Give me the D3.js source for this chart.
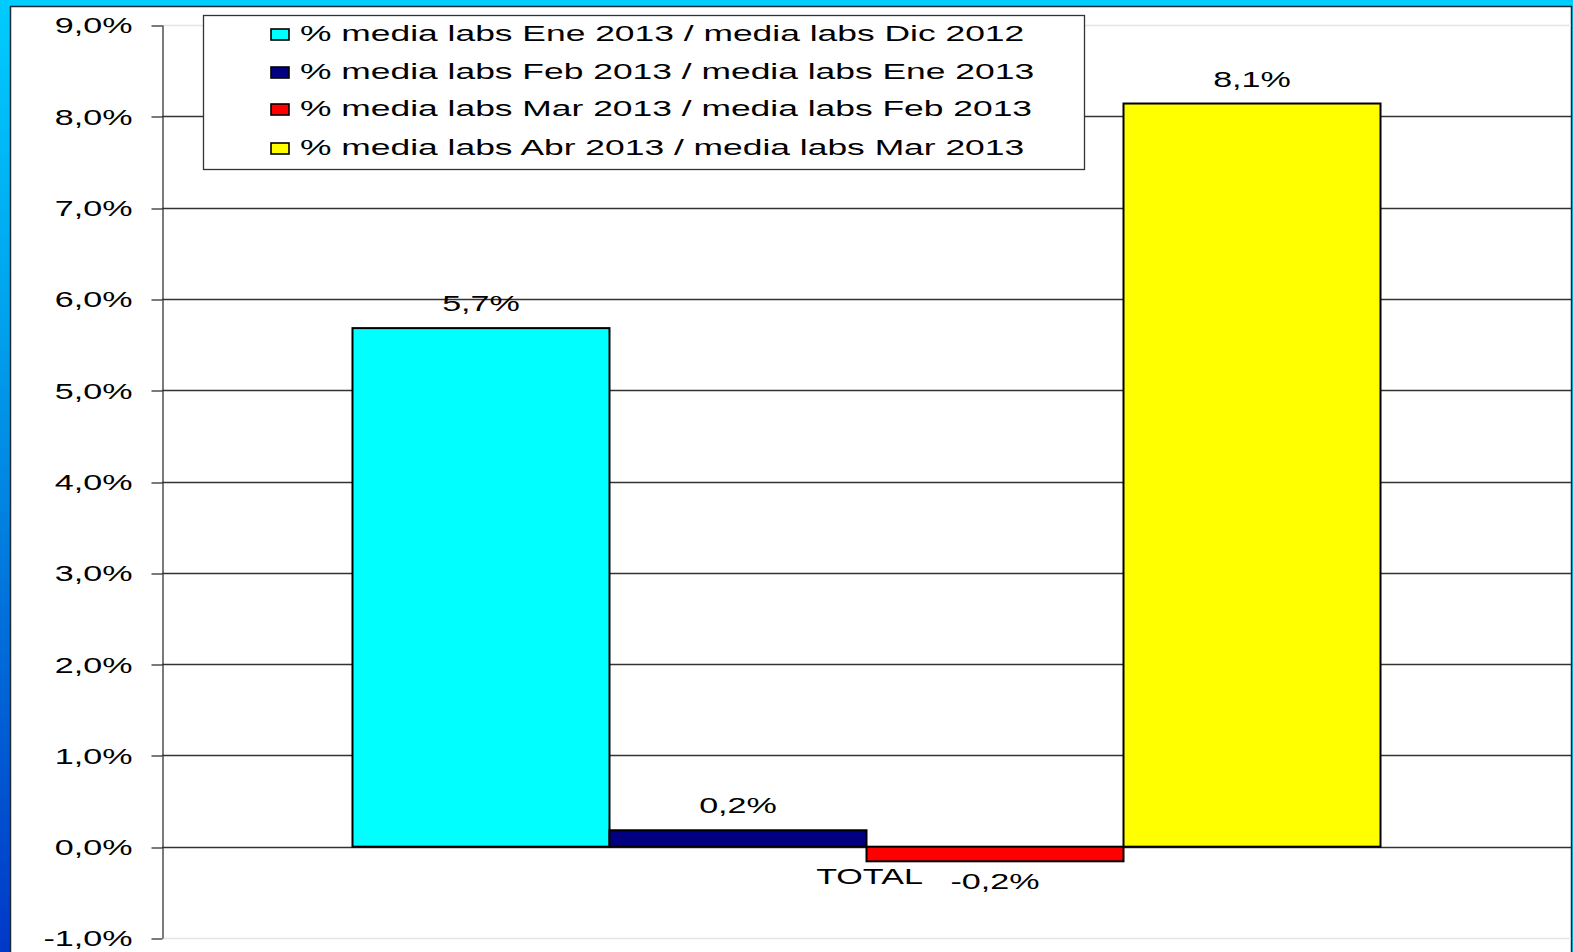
<!DOCTYPE html>
<html>
<head>
<meta charset="utf-8">
<script src="https://cdn.jsdelivr.net/npm/d3@7"></script>
<style>
  html, body { margin: 0; padding: 0; background: #00CCFF; }
  svg { display: block; }
  text { font-family: "Liberation Sans", Arial, sans-serif; fill: #000; }
</style>
</head>
<body>
<svg id="chart" width="1573" height="952"></svg>
<script>
// ---- data ----
const categories = ["TOTAL"];
const seriesNames = [
  "% media labs Ene 2013 / media labs Dic 2012",
  "% media labs Feb 2013 / media labs Ene 2013",
  "% media labs Mar 2013 / media labs Feb 2013",
  "% media labs Abr 2013 / media labs Mar 2013"
];
const seriesValues = [5.68, 0.18, -0.16, 8.14];
const seriesColors = ["#00FFFF", "#000080", "#FF0000", "#FFFF00"];
const yTicks = [-1, 0, 1, 2, 3, 4, 5, 6, 7, 8, 9];

// ---- setup ----
const W = 1573, H = 952;
const SX = 1.55;            // horizontal glyph stretch seen in the reference
const SXL = 1.61;           // legend stretch
const FS = 22;
const svg = d3.select("#chart");

const es = d3.formatLocale({decimal: ",", thousands: ".", grouping: [3], currency: ["", "€"], minus: "-"});
const fmt = v => es.format(".1f")(v) + "%";

// background: cyan top strip, gradient left strip
const defs = svg.append("defs");
const grad = defs.append("linearGradient").attr("id", "lg").attr("x1", 0).attr("y1", 0).attr("x2", 0).attr("y2", 1);
grad.append("stop").attr("offset", "0").attr("stop-color", "#00CCFF");
grad.append("stop").attr("offset", "0.35").attr("stop-color", "#00A0EC");
grad.append("stop").attr("offset", "0.7").attr("stop-color", "#0068D8");
grad.append("stop").attr("offset", "1").attr("stop-color", "#0038C8");
svg.append("rect").attr("x", 0).attr("y", 0).attr("width", W).attr("height", H).attr("fill", "#00CCFF");
svg.append("rect").attr("x", 0).attr("y", 0).attr("width", 12).attr("height", H).attr("fill", "url(#lg)");

// white panel
svg.append("rect").attr("x", 10.5).attr("y", 6.5).attr("width", 1561).attr("height", 960)
  .attr("fill", "#fff").attr("stroke", "#1c2a38").attr("stroke-width", 1.5);

// scales
const plotL = 162, plotR = 1571, plotT = 25, plotB = 938;
const y = d3.scaleLinear().domain([-1, 9]).range([plotB, plotT]);
const x0 = d3.scaleBand().domain(categories).range([plotL, plotR]).paddingInner(0).paddingOuter(0.1853);
const x1 = d3.scaleBand().domain(d3.range(seriesNames.length)).range([0, x0.bandwidth()]);

// gridlines
svg.append("g").selectAll("line").data(yTicks).join("line")
  .attr("x1", plotL).attr("x2", plotR)
  .attr("y1", d => Math.round(y(d)) + 0.5).attr("y2", d => Math.round(y(d)) + 0.5)
  .attr("stroke", d => (d === 9 || d === -1) ? "#e4e4e4" : "#333")
  .attr("stroke-width", 1.3);

// y axis
const yAxis = svg.append("g").attr("transform", `translate(${plotL + 0.5},0)`)
  .call(d3.axisLeft(y).tickValues(yTicks).tickFormat(fmt).tickSize(11).tickSizeOuter(0));
yAxis.select(".domain").attr("stroke", "#333").attr("stroke-width", 1.3);
yAxis.selectAll(".tick line").attr("stroke", "#333").attr("stroke-width", 1.3)
  .attr("transform", (d) => `translate(0,${Math.round(y(d)) + 0.5 - y(d)})`);
yAxis.selectAll(".tick text")
  .attr("font-size", FS).attr("font-family", "Liberation Sans, Arial, sans-serif")
  .attr("fill", "#000")
  .attr("x", -30 / SX).attr("dy", "0.36em")
  .attr("transform", `scale(${SX},1)`);

// bars
const gBars = svg.append("g");
categories.forEach(cat => {
  const g = gBars.append("g").attr("transform", `translate(${x0(cat)},0)`);
  g.selectAll("rect").data(seriesValues).join("rect")
    .attr("x", (d, i) => x1(i))
    .attr("width", x1.bandwidth())
    .attr("y", d => y(Math.max(0, d)))
    .attr("height", d => Math.abs(y(d) - y(0)))
    .attr("fill", (d, i) => seriesColors[i])
    .attr("stroke", "#000").attr("stroke-width", 2);
  // value labels
  g.selectAll("text.val").data(seriesValues).join("text")
    .attr("class", "val")
    .attr("text-anchor", "middle")
    .attr("font-size", FS)
    .attr("transform", (d, i) => {
      const cx = x1(i) + x1.bandwidth() / 2;
      const ty = d >= 0 ? y(d) - 17 : y(d) + 28;
      return `translate(${cx},${ty}) scale(${SX},1)`;
    })
    .text(d => fmt(d));
  // category label
  svg.append("text")
    .attr("text-anchor", "middle").attr("font-size", FS)
    .attr("transform", `translate(${x0(cat) + x0.bandwidth() / 2 + 3},${y(0) + 37}) scale(${SX},1)`)
    .text(cat);
});

// legend
const leg = svg.append("g");
leg.append("rect").attr("x", 203.5).attr("y", 15.5).attr("width", 881).attr("height", 154)
  .attr("fill", "#fff").attr("stroke", "#333").attr("stroke-width", 1.3);
const rowBase = [41, 79, 116, 155];
seriesNames.forEach((name, i) => {
  leg.append("rect").attr("x", 271).attr("y", rowBase[i] - 12).attr("width", 18).attr("height", 11)
    .attr("fill", seriesColors[i]).attr("stroke", "#000").attr("stroke-width", 1.6);
  leg.append("text").attr("font-size", FS)
    .attr("transform", `translate(300,${rowBase[i]}) scale(${SXL},1)`)
    .text(name);
});
</script>
</body>
</html>
